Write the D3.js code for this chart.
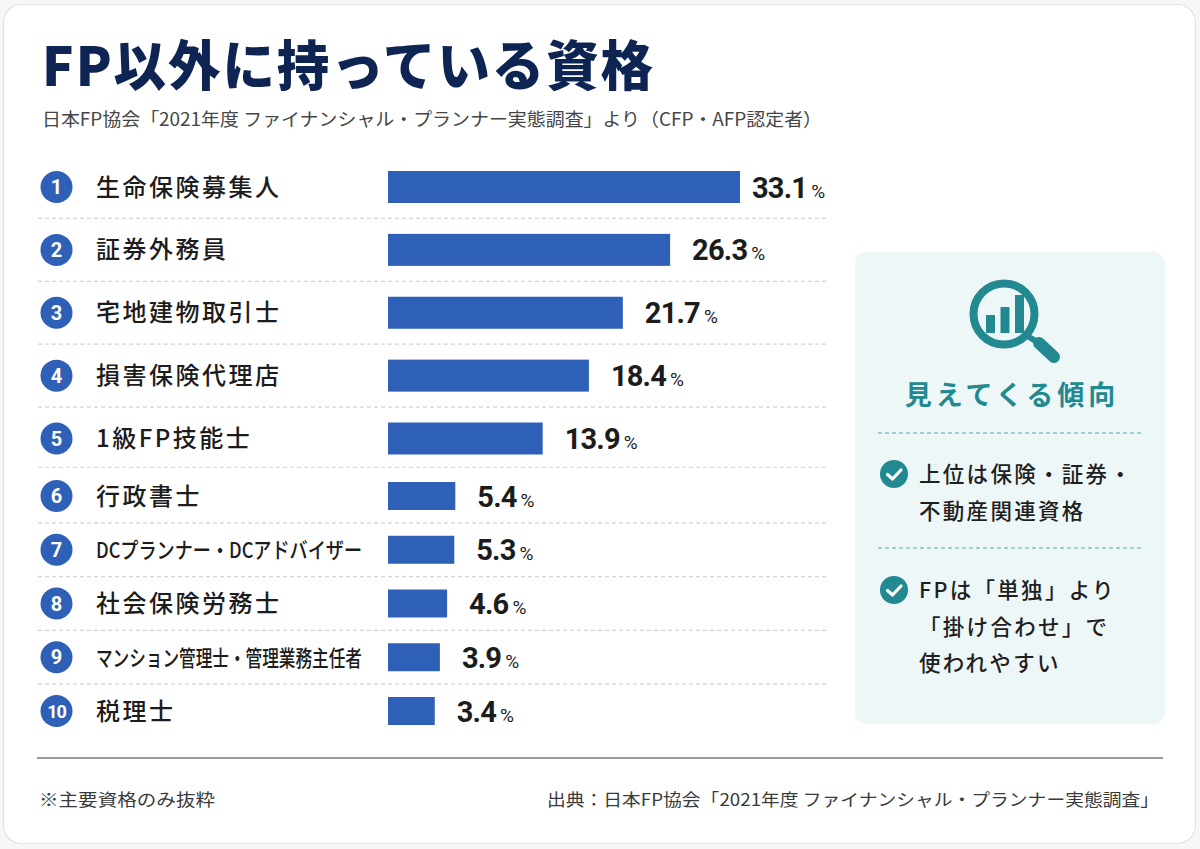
<!DOCTYPE html>
<html lang="ja">
<head>
<meta charset="utf-8">
<script src="https://cdn.jsdelivr.net/npm/d3@7/dist/d3.min.js"></script>
<style>
  html, body { margin: 0; padding: 0; background: #f7f7f7; }
  svg { display: block; }
  text { font-family: "Noto Sans CJK JP", "Noto Sans", sans-serif; }
</style>
</head>
<body>
<svg id="chart" width="1200" height="849"></svg>
<script>
// ---- data ----
const ranks = [1, 2, 3, 4, 5, 6, 7, 8, 9, 10];
const categories = [
  "生命保険募集人", "証券外務員", "宅地建物取引士", "損害保険代理店", "1級FP技能士",
  "行政書士", "DCプランナー・DCアドバイザー", "社会保険労務士", "マンション管理士・管理業務主任者", "税理士"
];
const values = [33.1, 26.3, 21.7, 18.4, 13.9, 5.4, 5.3, 4.6, 3.9, 3.4];
const titleText = "FP以外に持っている資格";
const subtitleText = "日本FP協会「2021年度 ファイナンシャル・プランナー実態調査」より（CFP・AFP認定者）";
const panelTitle = "見えてくる傾向";
const panelItems = [
  ["上位は保険・証券・", "不動産関連資格"],
  ["FPは「単独」より", "「掛け合わせ」で", "使われやすい"]
];
const noteText = "※主要資格のみ抜粋";
const sourceText = "出典：日本FP協会「2021年度 ファイナンシャル・プランナー実態調査」";

// ---- setup ----
const svg = d3.select("#chart");
const BLUE = "#2e60b8", TEAL = "#21898f", NAVY = "#0e2453";

// card
svg.append("rect").attr("x", 3.5).attr("y", 4.5).attr("width", 1192).attr("height", 839)
  .attr("rx", 18).attr("fill", "#ffffff").attr("stroke", "#e2e2e2").attr("stroke-width", 1.2);

// title
svg.append("text").attr("x", 42).attr("y", 86)
  .attr("font-size", 54).attr("font-weight", 900).attr("fill", NAVY)
  .attr("letter-spacing", 2)
  .attr("textLength", 613).attr("lengthAdjust", "spacingAndGlyphs")
  .text(titleText);

// subtitle
svg.append("text").attr("x", 42).attr("y", 126)
  .attr("font-size", 18).attr("fill", "#454545")
  .attr("textLength", 780).attr("lengthAdjust", "spacingAndGlyphs")
  .text(subtitleText);

// ---- scales ----
const x = d3.scaleLinear().domain([-1.15, 33.1]).range([388, 740]);
const y = d3.scaleLinear().domain([1, 5, 6, 10]).range([187, 438.5, 496, 711]);
const barH = r => r <= 5 ? 32 : 28;

const rows = ranks.map((r, i) => ({ rank: r, cat: categories[i], value: values[i] }));

// separators
const seps = ranks.slice(0, -1).map(r => (y(r) + y(r + 1)) / 2);
svg.append("g").selectAll("line").data(seps).join("line")
  .attr("x1", 38).attr("x2", 828).attr("y1", d => d).attr("y2", d => d)
  .attr("stroke", "#d4d4d4").attr("stroke-width", 1.2).attr("stroke-dasharray", "4,3");

const g = svg.append("g");
const row = g.selectAll("g.row").data(rows).join("g").attr("class", "row");

// badges
row.append("circle").attr("cx", 56.5).attr("cy", d => y(d.rank)).attr("r", 16).attr("fill", BLUE);
row.append("text").attr("x", 56.5).attr("y", d => y(d.rank) + 7)
  .attr("text-anchor", "middle").attr("fill", "#fff")
  .style("font-family", "Roboto, sans-serif").attr("font-weight", 700)
  .attr("font-size", d => d.rank === 10 ? 18 : 20)
  .attr("letter-spacing", d => d.rank === 10 ? -1 : 0)
  .text(d => d.rank);

// category labels
row.append("text").attr("class", "cat")
  .attr("x", 96).attr("y", d => y(d.rank) + 8.5)
  .attr("font-size", d => d.cat.length > 10 ? 22 : 24)
  .attr("font-weight", 500).attr("fill", "#1c1c1c")
  .attr("letter-spacing", d => d.cat.length > 10 ? 0 : 2.5)
  .text(d => d.cat)
  .each(function () {
    const w = this.getComputedTextLength();
    if (w > 266) d3.select(this).attr("textLength", 266).attr("lengthAdjust", "spacingAndGlyphs");
  });

// bars
row.append("rect")
  .attr("x", x(-1.15)).attr("y", d => y(d.rank) - barH(d.rank) / 2)
  .attr("width", d => x(d.value) - x(-1.15)).attr("height", d => barH(d.rank))
  .attr("fill", BLUE);

// value labels
const vl = row.append("text")
  .attr("x", d => x(d.value) + (d.rank === 1 ? 12 : 22)).attr("y", d => y(d.rank) + 10.5)
  .attr("fill", "#1c1c1c").style("font-family", "Roboto, sans-serif");
vl.append("tspan").attr("font-size", 29).attr("font-weight", 700).attr("letter-spacing", -0.8)
  .text(d => d.value.toFixed(1));
vl.append("tspan").attr("dx", 4).attr("font-size", 19).attr("font-weight", 400).text("%");

// ---- right panel ----
const P = svg.append("g");
P.append("rect").attr("x", 855).attr("y", 252).attr("width", 310).attr("height", 472)
  .attr("rx", 12).attr("fill", "#eef7f7");

// icon
const cx = 1004, cy = 314;
const icon = P.append("g");
icon.append("line").attr("x1", cx + 20).attr("y1", cy + 20).attr("x2", cx + 35).attr("y2", cy + 29)
  .attr("stroke", TEAL).attr("stroke-width", 6);
icon.append("line").attr("x1", cx + 35).attr("y1", cy + 29).attr("x2", cx + 50).attr("y2", cy + 43)
  .attr("stroke", TEAL).attr("stroke-width", 12).attr("stroke-linecap", "round");
icon.append("circle").attr("cx", cx).attr("cy", cy).attr("r", 30.5)
  .attr("fill", "#eef7f7").attr("stroke", TEAL).attr("stroke-width", 8);
const iconBars = [{ dx: -18, h: 18 }, { dx: -3.5, h: 26 }, { dx: 11, h: 38 }];
icon.selectAll("rect.ib").data(iconBars).join("rect").attr("class", "ib")
  .attr("x", d => cx + d.dx).attr("y", d => cy + 19 - d.h).attr("width", 9).attr("height", d => d.h)
  .attr("fill", TEAL);

// heading
P.append("text").attr("x", 1012).attr("y", 405).attr("text-anchor", "middle")
  .attr("font-size", 27).attr("font-weight", 700).attr("fill", TEAL)
  .attr("letter-spacing", 4).text(panelTitle);

// dashed lines
P.selectAll("line.pd").data([433, 548]).join("line").attr("class", "pd")
  .attr("x1", 878).attr("x2", 1143).attr("y1", d => d).attr("y2", d => d)
  .attr("stroke", "#7fc3c6").attr("stroke-width", 1.3).attr("stroke-dasharray", "4,3");

// items
const itemTop = [474, 590];
const items = P.selectAll("g.item").data(panelItems).join("g").attr("class", "item");
items.append("circle").attr("cx", 894).attr("cy", (d, i) => itemTop[i]).attr("r", 14).attr("fill", TEAL);
items.append("path")
  .attr("d", (d, i) => `M${887.5},${itemTop[i] + 0.5} L${892.5},${itemTop[i] + 5} L${901},${itemTop[i] - 4}`)
  .attr("fill", "none").attr("stroke", "#fff").attr("stroke-width", 3.2)
  .attr("stroke-linecap", "round").attr("stroke-linejoin", "round");
items.each(function (lines, i) {
  d3.select(this).selectAll("text").data(lines).join("text")
    .attr("x", 919).attr("y", (d, j) => itemTop[i] + 8 + j * 36.5)
    .attr("font-size", 21.5).attr("font-weight", 500).attr("fill", "#1f1f1f")
    .attr("letter-spacing", 2.3).text(d => d);
});

// ---- footer ----
svg.append("line").attr("x1", 37).attr("x2", 1163).attr("y1", 758).attr("y2", 758)
  .attr("stroke", "#9a9a9a").attr("stroke-width", 2);
svg.append("text").attr("x", 39).attr("y", 806).attr("font-size", 17).attr("fill", "#3a3a3a")
  .attr("textLength", 176).attr("lengthAdjust", "spacingAndGlyphs").text(noteText);
svg.append("text").attr("x", 547).attr("y", 806).attr("font-size", 17).attr("fill", "#3a3a3a")
  .attr("textLength", 612).attr("lengthAdjust", "spacingAndGlyphs").text(sourceText);
</script>
</body>
</html>
